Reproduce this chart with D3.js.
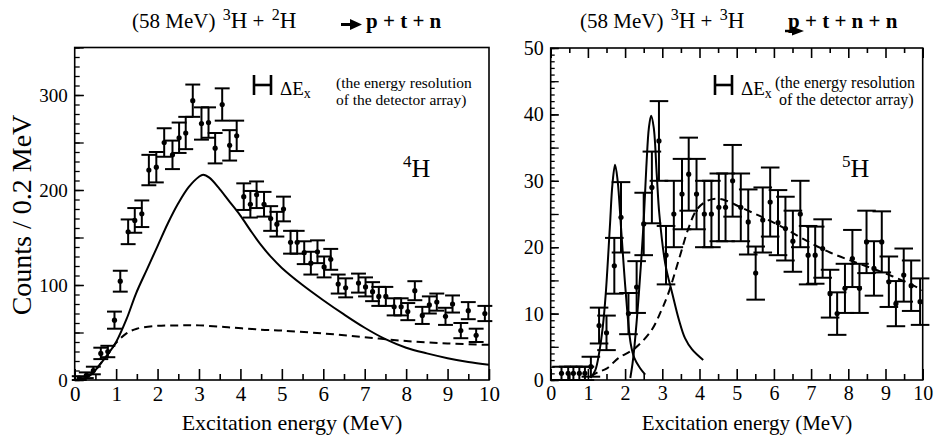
<!DOCTYPE html>
<html><head><meta charset="utf-8">
<script src="https://cdn.jsdelivr.net/npm/d3@7"></script>
<style>body{margin:0;background:#fff}</style>
</head><body>
<svg id="c" width="944" height="437"></svg>
<script>
// ---------------- DATA ----------------
// Left panel: 3H + 2H -> p + t + n  (4H)
const leftX   = [0.11,0.28,0.45,0.63,0.80,0.96,1.10,1.29,1.45,1.62,1.79,1.97,2.16,2.36,2.52,2.68,2.85,3.06,3.23,3.39,3.56,3.74,3.91,4.08,4.24,4.39,4.57,4.73,4.88,5.04,5.21,5.37,5.54,5.70,5.86,6.02,6.18,6.36,6.54,6.85,7.02,7.19,7.34,7.51,7.71,7.88,8.04,8.21,8.39,8.56,8.74,8.95,9.12,9.32,9.50,9.69,9.90];
const leftY   = [2,5,10,28,30,63,104,156,168,175,221,224,250,237,255,260,294,270,271,244,290,247,257,193,185,195,185,170,164,180,145,145,134,123,135,119,127,101,97,102,98,93,88,88,77,77,72,94,68,79,82,67,80,52,73,47,70];
const leftErr = [2,3,4,6,6,9,11,13,13,14,16,16,15,15,16,17,17,17,16,16,17,16,16,14,14,14,13,13,13,13,12,12,12,12,12,11,11,10,10,10,10,10,10,10,9,9,9,10,9,9,9,9,9,8,9,7,8];
const leftSolidX = [0,0.25,0.45,0.62,0.8,1,1.25,1.48,1.75,2,2.25,2.5,2.75,3,3.1,3.25,3.5,3.75,4,4.25,4.5,4.75,5,5.5,6,6.5,7,7.5,8,8.5,9,9.5,10];
const leftSolidY = [0,2,8,17,27,40,64,91,117,141,165,186,203,214,216,213,201,187,173,157,142,129,118,100,84,69,55,43,34,28,23,19,16];
const leftDashX  = [0,0.25,0.45,0.62,0.8,1,1.25,1.5,2,2.5,3,3.7,4.5,5,6,7,8,9,10];
const leftDashY  = [0,2,8,17,27,39,49,54,57,57.5,57.5,55.5,53,52,49,45,41,38.5,37];

// Right panel: 3H + 3H -> p + t + n + n  (5H)
const rightX   = [0.29,0.47,0.61,0.77,0.92,1.08,1.30,1.50,1.71,1.89,2.09,2.31,2.50,2.72,2.91,3.10,3.31,3.53,3.71,3.92,4.13,4.32,4.52,4.70,4.89,5.11,5.31,5.51,5.70,5.90,6.11,6.31,6.51,6.71,6.92,7.11,7.31,7.51,7.70,7.91,8.11,8.30,8.49,8.69,8.90,9.09,9.28,9.49,9.69,9.93];
const rightY   = [1,1,1,1,1,2,8.2,7.1,17.2,24.5,10,14,23.5,29,36,18.8,25,28,31,28,25,25,26,26,30,26,23.8,16.1,24.1,26.8,23.7,22.8,20.9,25,18.8,18.8,19.8,13,10,13.8,18.3,13.8,20.8,16.8,20.8,14.8,11.5,15.8,14.2,11.8];
const rightErr = [1,1,1,1,1,1.5,2.7,2.6,4.2,5.3,3.1,3.9,4.7,5.4,6,4.4,5,5.3,5.5,5.3,5,5,5.1,5.1,5.4,5.1,4.9,4,4.9,5.2,4.9,4.8,4.6,5,4.4,4.3,4.4,3.6,3.2,3.7,4.3,3.7,4.7,4.1,4.6,3.8,3.4,4,3.8,3.5];
const peak1X = [1.07,1.2,1.3,1.4,1.48,1.59,1.66,1.73,1.80,1.89,2.02,2.15,2.25,2.4,2.54];
const peak1Y = [0.3,1.5,4,8,13,23,29.5,32.4,30,23,13,5.5,3.3,1.8,0.8];
const peak2X = [2.14,2.2,2.25,2.37,2.49,2.57,2.64,2.70,2.77,2.85,2.92,3.08,3.27,3.45,3.61,3.8,4.1];
const peak2Y = [0.3,2.5,5,13,23,32,38,39.8,38,31,25,17.5,13,9,6.3,4.6,3];
const rightDashX = [1.07,1.28,1.5,1.82,2.27,2.71,2.96,3.16,3.47,3.7,3.92,4.18,4.45,4.72,5.11,5.7,6.24,6.8,7.51,8.2,8.93,9.65,10];
const rightDashY = [0.5,1.2,1.7,3.3,4.8,7.5,10.3,13,18.6,22.8,25.6,26.9,27.3,27,26,24.5,23,21.2,19.2,17.7,16.2,14.5,13.5];

const xTicks = [0,1,2,3,4,5,6,7,8,9,10];
const xHalfTicks = [0.5,1.5,2.5,3.5,4.5,5.5,6.5,7.5,8.5,9.5];
const leftYTicks = [0,100,200,300];
const rightYTicks = [0,10,20,30,40,50];

// ---------------- DRAW ----------------
const svg = d3.select("#c");
svg.append("rect").attr("width",944).attr("height",437).attr("fill","#fff");

function panel(o){
  const x = d3.scaleLinear().domain([0,10]).range([o.x0,o.x1]);
  const y = d3.scaleLinear().domain([0,o.ymax]).range([380,o.ytop]);
  const g = svg.append("g");

  const minorY = d3.range(0,o.ymax+1e-9,o.minorStep);
  g.append("g").attr("transform",`translate(${o.x0},0)`)
    .call(d3.axisLeft(y).tickValues(minorY).tickSize(-o.minorLen).tickFormat(""))
    .call(s=>s.select(".domain").remove())
    .call(s=>s.selectAll("line").attr("stroke-width",1.3));
  const midY = d3.range(0,o.ymax+1e-9,o.midStep);
  g.append("g").attr("transform",`translate(${o.x0},0)`)
    .call(d3.axisLeft(y).tickValues(midY).tickSize(-o.midLen).tickFormat(""))
    .call(s=>s.select(".domain").remove())
    .call(s=>s.selectAll("line").attr("stroke-width",1.3));
  g.append("g").attr("transform",`translate(${o.x0},0)`)
    .call(d3.axisLeft(y).tickValues(o.yTicks).tickSize(-o.midLen).tickPadding(7).tickFormat(d3.format("d")))
    .call(s=>s.select(".domain").remove())
    .call(s=>s.selectAll("line").attr("stroke-width",1.3))
    .call(s=>s.selectAll("text").attr("font-size",o.yTickFont));

  g.append("g").attr("transform",`translate(0,380)`)
    .call(d3.axisBottom(x).tickValues(xTicks).tickSize(-11).tickPadding(6).tickFormat(d3.format("d")))
    .call(s=>s.select(".domain").remove())
    .call(s=>s.selectAll("line").attr("stroke-width",1.6))
    .call(s=>s.selectAll("text").attr("font-size",o.tickFont));
  g.append("g").attr("transform",`translate(0,380)`)
    .call(d3.axisBottom(x).tickValues(xHalfTicks).tickSize(-6).tickFormat(""))
    .call(s=>s.select(".domain").remove())
    .call(s=>s.selectAll("line").attr("stroke-width",1.6));
  if(o.topTicks){
    g.append("g").attr("transform",`translate(0,${o.ytop})`)
      .call(d3.axisTop(x).tickValues(xTicks).tickSize(-10).tickFormat(""))
      .call(s=>s.select(".domain").remove())
      .call(s=>s.selectAll("line").attr("stroke-width",1.6));
    g.append("g").attr("transform",`translate(0,${o.ytop})`)
      .call(d3.axisTop(x).tickValues(xHalfTicks).tickSize(-5).tickFormat(""))
      .call(s=>s.select(".domain").remove())
      .call(s=>s.selectAll("line").attr("stroke-width",1.6));
  }
  g.append("rect").attr("x",o.x0).attr("y",o.ytop).attr("width",o.x1-o.x0).attr("height",380-o.ytop)
    .attr("fill","none").attr("stroke","#000").attr("stroke-width",1.6);

  const line = d3.line().x(d=>x(d[0])).y(d=>y(d[1])).curve(d3.curveCatmullRom.alpha(0.5));
  o.curves.forEach(c=>{
    g.append("path").attr("d",line(d3.zip(c.xs,c.ys))).attr("fill","none")
      .attr("stroke","#000").attr("stroke-width",2)
      .attr("stroke-dasharray",c.dash?"8,5":null);
  });

  const pts = d3.zip(o.xs,o.ys,o.errs);
  const eb = g.append("g").attr("stroke","#000").attr("stroke-width",2);
  pts.forEach(([px,py,pe])=>{
    eb.append("line").attr("x1",x(px)).attr("x2",x(px)).attr("y1",y(py-pe)).attr("y2",y(py+pe));
    [py-pe,py+pe].forEach(v=>{
      eb.append("line").attr("x1",x(px-o.cap)).attr("x2",x(px+o.cap)).attr("y1",y(v)).attr("y2",y(v));
    });
  });
  g.append("g").selectAll("circle").data(pts).join("circle")
    .attr("cx",d=>x(d[0])).attr("cy",d=>y(d[1])).attr("r",2.6).attr("fill","#000");

  g.append("text").attr("x",o.xtitleX).attr("y",430).attr("text-anchor","middle")
    .attr("font-size",o.xtitleFont).text("Excitation energy  (MeV)");

  const hg = g.append("g").attr("stroke","#000").attr("stroke-width",2.6);
  hg.append("line").attr("x1",o.hx).attr("x2",o.hx).attr("y1",75).attr("y2",95);
  hg.append("line").attr("x1",o.hx+17).attr("x2",o.hx+17).attr("y1",75).attr("y2",95);
  hg.append("line").attr("x1",o.hx).attr("x2",o.hx+17).attr("y1",85).attr("y2",85);
  const de = g.append("text").attr("x",o.hx+26).attr("y",95).attr("font-size",19);
  de.append("tspan").text("\u0394E");
  de.append("tspan").attr("dy",3).attr("font-size",14).text("x");
  g.append("text").attr("x",o.noteX).attr("y",87.5).attr("font-size",o.noteFont).text("(the energy resolution");
  g.append("text").attr("x",o.noteX2).attr("y",104.5).attr("font-size",o.noteFont).text("of the detector array)");
  const nl = g.append("text").attr("x",o.nucX).attr("y",177).attr("font-size",26);
  nl.append("tspan").attr("font-size",17).attr("dy",-10).text(o.nucSup);
  nl.append("tspan").attr("dy",10).text("H");
}

panel({x0:74.7,x1:489,ymax:350,ytop:47.5,minorStep:10,minorLen:5,midStep:50,midLen:9,yTicks:leftYTicks,
  yTickFont:19,tickFont:21,topTicks:false,cap:0.18,xs:leftX,ys:leftY,errs:leftErr,
  curves:[{xs:leftSolidX,ys:leftSolidY},{xs:leftDashX,ys:leftDashY,dash:true}],
  xtitleX:292,xtitleFont:22,hx:254,noteX:336,noteX2:336,noteFont:15.5,nucX:403,nucSup:"4"});

panel({x0:550.7,x1:922.7,ymax:50,ytop:48,minorStep:1,minorLen:4,midStep:5,midLen:8,yTicks:rightYTicks,
  yTickFont:20,tickFont:20,topTicks:true,cap:0.25,xs:rightX,ys:rightY,errs:rightErr,
  curves:[{xs:peak1X,ys:peak1Y},{xs:peak2X,ys:peak2Y},{xs:rightDashX,ys:rightDashY,dash:true}],
  xtitleX:747,xtitleFont:21,hx:715,noteX:775,noteX2:779,noteFont:16,nucX:842,nucSup:"5"});

svg.append("text").attr("transform","translate(31,215) rotate(-90)").attr("text-anchor","middle")
  .attr("font-size",28).text("Counts / 0.2 MeV");

// titles
function sup(t,s){ t.append("tspan").attr("font-size",16).attr("dx",2).attr("dy",-8).text(s); }
function hh(t,s){ t.append("tspan").attr("font-size",23).attr("dy",8).text(s); }
const t1 = svg.append("text").attr("x",132).attr("y",28).attr("font-size",21);
t1.append("tspan").text("(58 MeV) ");
sup(t1,"3"); hh(t1,"H"); t1.append("tspan").text(" + ");
sup(t1,"2"); hh(t1,"H");
svg.append("path").attr("d","M341,24.5 L352,24.5").attr("stroke","#000").attr("stroke-width",3);
svg.append("path").attr("d","M350,19 L362,24.5 L350,30 Z").attr("fill","#000");
svg.append("text").attr("x",366).attr("y",28).attr("font-size",21).attr("font-weight","bold").text("p + t + n");

const t2 = svg.append("text").attr("x",580).attr("y",28).attr("font-size",21);
t2.append("tspan").text("(58 MeV) ");
sup(t2,"3"); hh(t2,"H"); t2.append("tspan").text(" + ");
sup(t2,"3"); hh(t2,"H");
svg.append("text").attr("x",788).attr("y",28).attr("font-size",21).attr("font-weight","bold").text("p + t + n + n");
svg.append("path").attr("d","M785,31 L795,31").attr("stroke","#000").attr("stroke-width",2.5);
svg.append("path").attr("d","M792,26.5 L804,31 L792,35.5 Z").attr("fill","#000");

svg.selectAll("text").style("font-family",'"Liberation Serif"').style("fill","#000");
</script>
</body></html>
